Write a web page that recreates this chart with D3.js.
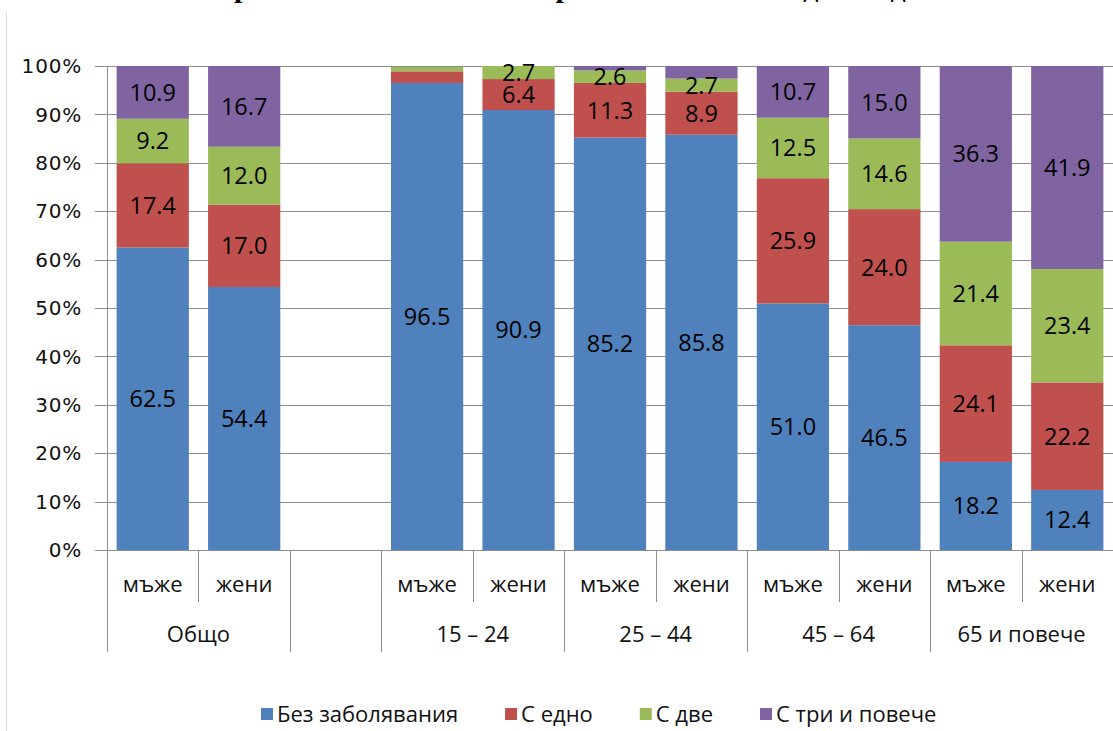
<!DOCTYPE html>
<html>
<head>
<meta charset="utf-8">
<script src="https://cdn.jsdelivr.net/npm/d3@7"></script>
<style>
  html, body { margin: 0; padding: 0; background: #fff; }
  svg { display: block; }
</style>
</head>
<body>
<svg id="chart" width="1113" height="731" viewBox="0 0 1113 731"></svg>
<script>
// slots along the x axis (the third slot is an empty spacer)
const sexLabels = ["мъже", "жени", "", "мъже", "жени", "мъже", "жени", "мъже", "жени", "мъже", "жени"];
const groupLabels = ["Общо", "", "15 – 24", "25 – 44", "45 – 64", "65 и повече"];
const groupSlots = [[0, 2], [2, 3], [3, 5], [5, 7], [7, 9], [9, 11]];

// series values, percent
const seriesNames = ["Без заболявания", "С едно", "С две", "С три и повече"];
const noDisease = [62.5, 54.4, 0, 96.5, 90.9, 85.2, 85.8, 51.0, 46.5, 18.2, 12.4];
const oneDisease = [17.4, 17.0, 0, 2.4, 6.4, 11.3, 8.9, 25.9, 24.0, 24.1, 22.2];
const twoDiseases = [9.2, 12.0, 0, 1.0, 2.7, 2.6, 2.7, 12.5, 14.6, 21.4, 23.4];
const threePlus = [10.9, 16.7, 0, 0.1, 0.0, 0.9, 2.6, 10.7, 15.0, 36.3, 41.9];
// data labels that are not shown on the chart: [series, slot]
const hiddenLabels = [[1, 3], [2, 3], [3, 3], [3, 4], [3, 5], [3, 6]];

const yTicks = [0, 0.1, 0.2, 0.3, 0.4, 0.5, 0.6, 0.7, 0.8, 0.9, 1];
const colors = ["#4F81BD", "#C0504D", "#9BBB59", "#8064A2"];
const titleText = "Хронични заболявания при населението над 15 години";

const svg = d3.select("#chart");
const labelFont = "'Open Sans', sans-serif";
const lineColor = "#8e8e8e";

// chart area border (left edge only visible)
svg.append("line")
    .attr("x1", 6.5).attr("x2", 6.5)
    .attr("y1", 13).attr("y2", 731)
    .attr("stroke", "#d9d9d9");

// title, cut off at the top (only descenders show)
svg.append("text")
    .attr("x", 585).attr("y", -3)
    .attr("text-anchor", "middle")
    .style("font-family", "'Liberation Serif', serif")
    .style("font-weight", "bold")
    .style("font-size", "30px")
    .text(titleText);

const rows = d3.range(sexLabels.length).map(i => ({
    i: i,
    s0: noDisease[i], s1: oneDisease[i], s2: twoDiseases[i], s3: threePlus[i]
}));
const keys = ["s0", "s1", "s2", "s3"];
const stacked = d3.stack().keys(keys).offset(d3.stackOffsetExpand)(rows);

const x = d3.scaleBand()
    .domain(d3.range(sexLabels.length))
    .range([107, 1113])
    .paddingInner(0.21)
    .paddingOuter(0.105);
const step = x.step();
const slotX = i => 107 + i * step;

const y = d3.scaleLinear().domain([0, 1]).range([550, 66]);

// gridlines + ticks
svg.append("g").selectAll("line")
    .data(yTicks)
    .enter().append("line")
    .attr("x1", 95).attr("x2", 1113)
    .attr("y1", d => Math.round(y(d)) + 0.5)
    .attr("y2", d => Math.round(y(d)) + 0.5)
    .attr("stroke", lineColor);

svg.append("g").selectAll("text")
    .data(yTicks)
    .enter().append("text")
    .attr("x", 82)
    .attr("y", d => y(d))
    .attr("dy", "0.36em")
    .attr("text-anchor", "end")
    .style("font-family", "'DejaVu Sans', sans-serif")
    .style("font-size", "20px")
    .style("letter-spacing", "0.8px")
    .style("fill", "#111")
    .text(d => d3.format(".0%")(d));

// stacked bars
const layers = svg.append("g").selectAll("g")
    .data(stacked)
    .enter().append("g")
    .attr("fill", (d, k) => colors[k]);

layers.selectAll("rect")
    .data(d => d.filter(p => p.data.i !== 2))
    .enter().append("rect")
    .attr("x", p => x(p.data.i))
    .attr("width", x.bandwidth())
    .attr("y", p => y(p[1]))
    .attr("height", p => Math.max(0, y(p[0]) - y(p[1])));

// data labels
const isHidden = (k, i) => hiddenLabels.some(h => h[0] === k && h[1] === i);
stacked.forEach((layer, k) => {
    svg.append("g").selectAll("text")
        .data(layer.filter(p => p.data.i !== 2 && !isHidden(k, p.data.i)))
        .enter().append("text")
        .attr("x", p => x(p.data.i) + x.bandwidth() / 2)
        .attr("y", p => (y(p[0]) + y(p[1])) / 2)
        .attr("dy", "0.36em")
        .attr("text-anchor", "middle")
        .style("font-family", labelFont)
        .style("font-size", "23.5px")
        .style("fill", "#000")
        .text(p => d3.format(".1f")(p.data[keys[k]]));
});

// axes lines
svg.append("line")
    .attr("x1", 107.5).attr("x2", 107.5)
    .attr("y1", 66).attr("y2", 652)
    .attr("stroke", lineColor);

const groupEdges = [0, 2, 3, 5, 7, 9, 11];
svg.append("g").selectAll("line")
    .data(groupEdges)
    .enter().append("line")
    .attr("x1", d => Math.round(slotX(d)) + 0.5)
    .attr("x2", d => Math.round(slotX(d)) + 0.5)
    .attr("y1", 550).attr("y2", 652)
    .attr("stroke", lineColor);

const innerEdges = [1, 4, 6, 8, 10];
svg.append("g").selectAll("line")
    .data(innerEdges)
    .enter().append("line")
    .attr("x1", d => Math.round(slotX(d)) + 0.5)
    .attr("x2", d => Math.round(slotX(d)) + 0.5)
    .attr("y1", 550).attr("y2", 602)
    .attr("stroke", lineColor);

// category labels
svg.append("g").selectAll("text")
    .data(sexLabels.map((t, i) => ({ t, i })).filter(d => d.t))
    .enter().append("text")
    .attr("x", d => x(d.i) + x.bandwidth() / 2)
    .attr("y", 584)
    .attr("dy", "0.36em")
    .attr("text-anchor", "middle")
    .style("font-family", labelFont)
    .style("font-size", "22px")
    .style("fill", "#111")
    .text(d => d.t);

svg.append("g").selectAll("text")
    .data(groupLabels.map((t, g) => ({ t, g })).filter(d => d.t))
    .enter().append("text")
    .attr("x", d => (slotX(groupSlots[d.g][0]) + slotX(groupSlots[d.g][1])) / 2)
    .attr("y", 634)
    .attr("dy", "0.36em")
    .attr("text-anchor", "middle")
    .style("font-family", labelFont)
    .style("font-size", "22px")
    .style("fill", "#111")
    .text(d => d.t);

// legend
const legend = svg.append("g");
let lx = 261;
seriesNames.forEach((name, k) => {
    legend.append("rect")
        .attr("x", lx).attr("y", 708)
        .attr("width", 12).attr("height", 12)
        .attr("fill", colors[k]);
    const t = legend.append("text")
        .attr("x", lx + 16).attr("y", 714)
        .attr("dy", "0.36em")
        .style("font-family", labelFont)
        .style("font-size", "22px")
        .style("fill", "#111")
        .text(name);
    lx += 16 + t.node().getComputedTextLength() + 47;
});
</script>
</body>
</html>
